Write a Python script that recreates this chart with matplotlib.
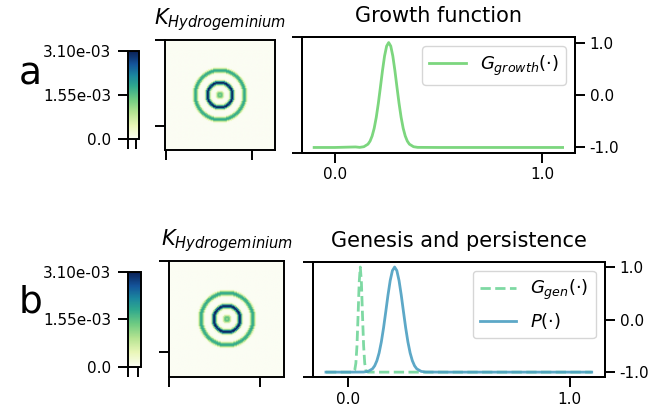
"""
Lenia kernel and growth / genesis-persistence functions.
"""
import numpy as np
import matplotlib
matplotlib.use("Agg")
import matplotlib.pyplot as plt
from matplotlib.colors import LinearSegmentedColormap

# kernel radial profile (values in 1e-3), one value per cell of radius
kernel_profile = [0.7, 1.2, 1.5, 1.4, 0.9, 0.35, 0.05, 0.0, 0.0, 0.0,
                  0.05, 0.3, 1.0, 2.0, 2.9, 3.1, 2.3, 1.1, 0.3, 0.05,
                  0.0, 0.0, 0.0, 0.0, 0.0, 0.1, 0.5, 1.2, 1.7, 1.85,
                  1.65, 1.0, 0.4, 0.05, 0.0, 0.0]
kernel_size = 128
cbar_ticks = [0.0, 1.55e-3, 3.10e-3]
cbar_labels = ["0.0", "1.55e-03", "3.10e-03"]

# growth function
growth_x = [-0.10, 0.00, 0.10, 0.12, 0.14, 0.16, 0.17, 0.18, 0.19, 0.20, 0.21,
            0.22, 0.23, 0.24, 0.25, 0.26, 0.27, 0.28, 0.29, 0.30, 0.31, 0.32,
            0.33, 0.34, 0.35, 0.36, 0.38, 0.40, 0.50, 1.10]
growth_y = [-1.00, -1.00, -0.99, -0.998, -0.986, -0.937, -0.879, -0.782, -0.634,
            -0.425, -0.158, 0.149, 0.465, 0.742, 0.932, 1.00, 0.932, 0.742, 0.465,
            0.149, -0.158, -0.425, -0.634, -0.782, -0.879, -0.937, -0.986, -0.998,
            -1.00, -1.00]

# genesis function
gen_x = [-0.10, 0.00, 0.020, 0.025, 0.030, 0.035, 0.040, 0.045, 0.050, 0.055,
         0.060, 0.065, 0.070, 0.075, 0.080, 0.085, 0.090, 0.20, 1.10]
gen_y = [-1.00, -1.00, -1.00, -0.99, -0.96, -0.83, -0.50, 0.08, 0.71, 1.00,
         0.71, 0.08, -0.50, -0.83, -0.96, -0.99, -1.00, -1.00, -1.00]

# persistence function
pers_x = [-0.10, 0.00, 0.07, 0.09, 0.11, 0.12, 0.13, 0.14, 0.15, 0.16, 0.17,
          0.18, 0.19, 0.20, 0.21, 0.22, 0.23, 0.24, 0.25, 0.26, 0.27, 0.28,
          0.29, 0.30, 0.31, 0.33, 0.35, 0.45, 1.10]
pers_y = [-1.00, -1.00, -0.998, -0.986, -0.937, -0.879, -0.782, -0.634, -0.425,
          -0.158, 0.149, 0.465, 0.742, 0.932, 1.00, 0.932, 0.742, 0.465, 0.149,
          -0.158, -0.425, -0.634, -0.782, -0.879, -0.937, -0.986, -0.998,
          -1.00, -1.00]

plt.rcParams["font.size"] = 11
plt.rcParams["axes.linewidth"] = 1.4
plt.rcParams["xtick.major.size"] = 7
plt.rcParams["ytick.major.size"] = 7
plt.rcParams["xtick.major.width"] = 1.4
plt.rcParams["ytick.major.width"] = 1.4

cmap = LinearSegmentedColormap.from_list(
    "kern", [(0.0, "#fbfdf3"), (0.15, "#e9f6b8"), (0.3, "#b5e391"), (0.45, "#6fcb82"),
             (0.6, "#2fa88d"), (0.72, "#1b879e"), (0.85, "#14549a"), (1.0, "#0a1f55")])

# kernel image: each cell takes the profile value at its (rounded) radius
c = (kernel_size - 1) / 2
yy, xx = np.mgrid[0:kernel_size, 0:kernel_size]
dist = np.rint(np.hypot(xx - c, yy - c)).astype(int)
prof = np.array(kernel_profile) * 1e-3
dist = np.clip(dist, 0, len(prof) - 1)
kernel = prof[dist]

fig = plt.figure(figsize=(6.72, 4.16), dpi=100)

rows = [
    dict(cb=[0.1905, 0.6659, 0.0164, 0.2115], im=[0.2455, 0.6394, 0.1647, 0.2644],
         fn=[0.449, 0.6329, 0.4067, 0.2774], letter="a", ly=0.82,
         title="Growth function"),
    dict(cb=[0.1905, 0.1185, 0.0189, 0.2284], im=[0.2504, 0.0945, 0.1737, 0.2781],
         fn=[0.4653, 0.0928, 0.435, 0.2779], letter="b", ly=0.272,
         title="Genesis and persistence"),
]

for i, r in enumerate(rows):
    ax_im = fig.add_axes(r["im"])
    img = ax_im.imshow(kernel, cmap=cmap, vmin=0, vmax=3.1e-3, interpolation="bilinear")
    ax_im.set_xticks([0, 100])
    ax_im.set_yticks([0, 100])
    ax_im.set_xticklabels([])
    ax_im.set_yticklabels([])
    ax_im.set_title(r"$K_{Hydrogeminium}$", fontsize=15, pad=11)

    ax_cb = fig.add_axes(r["cb"])
    cb = fig.colorbar(img, cax=ax_cb)
    cb.outline.set_linewidth(1.4)
    ax_cb.yaxis.set_ticks_position("left")
    cb.set_ticks(cbar_ticks)
    cb.set_ticklabels(cbar_labels)
    ax_cb.tick_params(axis="y", pad=5)
    ax_cb.set_xticks([0, 0.75])
    ax_cb.set_xticklabels([])
    ax_cb.tick_params(axis="x", bottom=True)

    fig.text(0.045, r["ly"], r["letter"], fontsize=27, ha="center", va="center")

    ax = fig.add_axes(r["fn"])
    ax.set_ylim(0, 1)
    ax.set_yticks([0, 1])
    ax.set_yticklabels([])
    ax2 = ax.twinx()
    if i == 0:
        ax2.plot(growth_x, growth_y, color="#7cd67e", lw=2, label=r"$G_{growth}(\cdot)$")
    else:
        ax2.plot(gen_x, gen_y, color="#7ed9a3", lw=2, ls="--", label=r"$G_{gen}(\cdot)$")
        ax2.plot(pers_x, pers_y, color="#4b9fc1", lw=2, alpha=0.9, label=r"$P(\cdot)$")
    ax2.set_xlim(-0.16, 1.16)
    ax2.set_ylim(-1.1, 1.1)
    ax2.set_yticks([-1, 0, 1])
    ax2.set_yticklabels(["-1.0", "0.0", "1.0"])
    ax.set_xticks([0, 1])
    ax.set_xticklabels(["0.0", "1.0"])
    ax.set_xlim(-0.16, 1.16)
    ax.set_title(r["title"], fontsize=15, pad=11)
    ax2.legend(loc="upper right", fontsize=13)

fig.savefig("out.png", dpi=100)
